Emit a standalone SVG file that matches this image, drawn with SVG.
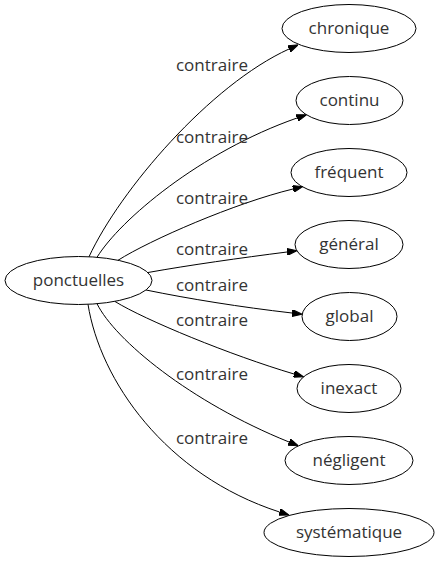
<svg xmlns="http://www.w3.org/2000/svg" width="437" height="563" viewBox="0 0 437 563">
<style>
.n ellipse{fill:none;stroke:#000;stroke-width:1}
text{font-family:"Open Sans","DejaVu Sans",sans-serif;font-size:17px;fill:#333;text-anchor:middle}
.e path{fill:none;stroke:#000;stroke-width:1;marker-end:url(#ah)}
</style>
<defs>
<marker id="ah" markerUnits="userSpaceOnUse" viewBox="0 0 10 7" markerWidth="10" markerHeight="7" refX="0" refY="3.5" orient="auto">
<path d="M0,0 L10,3.5 L0,7 z" fill="#000" stroke="#000" stroke-width="1"/>
</marker>
</defs>
<rect width="437" height="563" fill="#fff"/>
<g id="edges" class="e">
<path d="M89,256.8 C120,190 210,85 289,49"/>
<path d="M97,257.3 C120,220 200,152 297,118"/>
<path d="M118,260.3 C150,240 235,203 293,189"/>
<path d="M148,272.5 C190,265 240,258 287,252"/>
<path d="M146,290 C190,299 240,307 292,313"/>
<path d="M115,301.5 C145,320 230,355 294,374"/>
<path d="M97,303.7 C115,340 190,402 289,442"/>
<path d="M88,304.3 C100,380 165,475 279.5,512"/>
</g>
<g id="labels">
<text x="212" y="71">contraire</text>
<text x="212" y="143">contraire</text>
<text x="212" y="204">contraire</text>
<text x="212" y="255">contraire</text>
<text x="212" y="290.5">contraire</text>
<text x="212" y="326">contraire</text>
<text x="212" y="380">contraire</text>
<text x="212" y="444">contraire</text>
</g>
<g id="ponctuelles" class="n"><ellipse cx="78.5" cy="280.5" rx="73.5" ry="24"/><text x="78.5" y="286">ponctuelles</text></g>
<g id="chronique" class="n"><ellipse cx="349" cy="28.5" rx="67" ry="24"/><text x="349" y="34">chronique</text></g>
<g id="continu" class="n"><ellipse cx="349.5" cy="100.5" rx="53.5" ry="24"/><text x="349.5" y="106">continu</text></g>
<g id="frequent" class="n"><ellipse cx="349" cy="172.5" rx="58" ry="24"/><text x="349" y="178">fréquent</text></g>
<g id="general" class="n"><ellipse cx="349" cy="244.5" rx="54" ry="24"/><text x="349" y="250">général</text></g>
<g id="global" class="n"><ellipse cx="349.5" cy="316.5" rx="47.5" ry="24"/><text x="349.5" y="322">global</text></g>
<g id="inexact" class="n"><ellipse cx="349" cy="388.5" rx="52" ry="24"/><text x="349" y="394">inexact</text></g>
<g id="negligent" class="n"><ellipse cx="349" cy="460.5" rx="64" ry="24"/><text x="349" y="466">négligent</text></g>
<g id="systematique" class="n"><ellipse cx="349" cy="532.5" rx="85" ry="24"/><text x="349" y="538">systématique</text></g>
</svg>
